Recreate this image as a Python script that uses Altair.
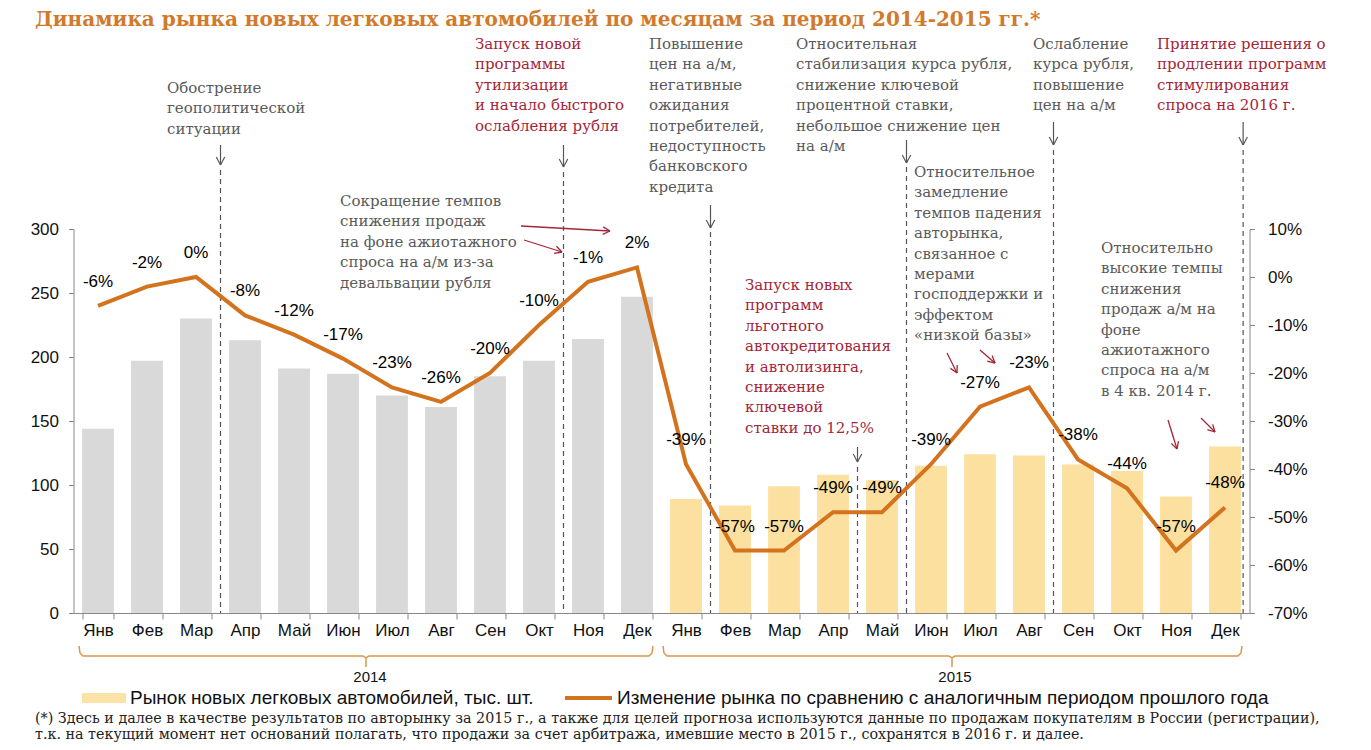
import math
import altair as alt
import pandas as pd

# ---------------- data ----------------
MONTHS = ["Янв", "Фев", "Мар", "Апр", "Май", "Июн", "Июл", "Авг", "Сен", "Окт", "Ноя", "Дек"]
YEARS = ["2014", "2015"]
SALES_2014 = [144, 197, 230, 213, 191, 187, 170, 161, 185, 197, 214, 247]
SALES_2015 = [89, 84, 99, 108, 104, 115, 124, 123, 116, 111, 91, 130]
CHANGE_2014 = [-6, -2, 0, -8, -12, -17, -23, -26, -20, -10, -1, 2]
CHANGE_2015 = [-39, -57, -57, -49, -49, -39, -27, -23, -38, -44, -57, -48]
LEFT_TICKS = [0, 50, 100, 150, 200, 250, 300]
RIGHT_TICKS = [-70, -60, -50, -40, -30, -20, -10, 0, 10]

TITLE = "Динамика рынка новых легковых автомобилей по месяцам за период 2014-2015 гг.*"
LEGEND_BAR = "Рынок новых легковых автомобилей, тыс. шт."
LEGEND_LINE = "Изменение рынка по сравнению с аналогичным периодом прошлого года"
FOOTNOTE = [
    "(*) Здесь и далее в качестве результатов по авторынку за 2015 г., а также для целей прогноза используются данные по продажам покупателям в России (регистрации),",
    "т.к. на текущий момент нет оснований полагать, что продажи за счет арбитража, имевшие место в 2015 г., сохранятся в 2016 г. и далее.",
]

GREY_T = "#5a5a5a"
RED_T = "#a32638"
ANNOTATIONS = [
    (["Обострение", "геополитической", "ситуации"], GREY_T, 167, 88),
    (["Запуск новой", "программы", "утилизации", "и начало быстрого", "ослабления рубля"], RED_T, 475, 44),
    (["Сокращение темпов", "снижения продаж", "на фоне ажиотажного", "спроса на а/м из-за", "девальвации рубля"], GREY_T, 340, 201),
    (["Повышение", "цен на а/м,", "негативные", "ожидания", "потребителей,", "недоступность", "банковского", "кредита"], GREY_T, 649, 44),
    (["Относительная", "стабилизация курса рубля,", "снижение ключевой", "процентной ставки,", "небольшое снижение цен", "на а/м"], GREY_T, 796, 44),
    (["Ослабление", "курса рубля,", "повышение", "цен на а/м"], GREY_T, 1033, 44),
    (["Принятие решения о", "продлении программ", "стимулирования", "спроса на 2016 г."], RED_T, 1157, 44),
    (["Относительное", "замедление", "темпов падения", "авторынка,", "связанное с", "мерами", "господдержки и", "эффектом", "«низкой базы»"], GREY_T, 914, 172),
    (["Запуск новых", "программ", "льготного", "автокредитования", "и автолизинга,", "снижение", "ключевой", "ставки до 12,5%"], RED_T, 745, 285),
    (["Относительно", "высокие темпы", "снижения", "продаж а/м на", "фоне", "ажиотажного", "спроса на а/м", "в 4 кв. 2014 г."], GREY_T, 1101, 248),
]

# event markers: (band boundary index, arrow top, arrow bottom, dashed line top)
EVENTS = [(3, 145, 165, 170), (10, 145, 167, 172), (13, 205, 228, 232), (16, 447, 462, 467),
          (17, 140, 163, 167), (20, 122, 145, 150), (23.87, 122, 145, 150)]
RED_ARROWS = [((521, 226), (610, 231)), ((524, 240), (562, 252)), ((947, 353), (957, 373)),
              ((980, 350), (995, 363)), ((1168, 420), (1177, 449)), ((1201, 418), (1215, 432))]

# ---------------- layout ----------------
W, H = 1176, 384
OX, OY = 73.5, 229.0          # plot origin in page coordinates
STEP = W / 24


def px(x):
    return x - OX


def py(y):
    return y - OY


keys = [f"{m} {y}" for y in YEARS for m in MONTHS]
df = pd.DataFrame({
    "key": keys,
    "year": [y for y in YEARS for _ in MONTHS],
    "sales": SALES_2014 + SALES_2015,
    "change": CHANGE_2014 + CHANGE_2015,
})
df["label"] = [f"{v}%" for v in df["change"]]

FONT = "Liberation Sans"
SERIF = "DejaVu Serif"

X_ENC = alt.X("key:N", sort=keys,
              scale=alt.Scale(paddingInner=0.35, paddingOuter=0.175),
              axis=alt.Axis(title=None, labelExpr="split(datum.label, ' ')[0]", labelAngle=0,
                            tickBand="extent", labelFont=FONT, labelFontSize=17, labelColor="#111",
                            domainColor="#888", tickColor="#888", tickSize=6, labelPadding=3,
                            labelOverlap=False))

bars = alt.Chart(df).mark_bar().encode(
    x=X_ENC,
    y=alt.Y("sales:Q", scale=alt.Scale(domain=[0, 300]),
            axis=alt.Axis(title=None, values=LEFT_TICKS, grid=False, labelFont=FONT, labelFontSize=17,
                          labelColor="#111", domainColor="#888", tickColor="#888", tickSize=5,
                          labelPadding=10)),
    color=alt.Color("year:N", scale=alt.Scale(domain=YEARS, range=["#d9d9d9", "#fce0a0"]), legend=None),
)

Y_R = alt.Y("change:Q", scale=alt.Scale(domain=[-70, 10]),
            axis=alt.Axis(title=None, orient="right", values=RIGHT_TICKS, grid=False,
                          labelExpr="datum.value + '%'", labelFont=FONT, labelFontSize=17,
                          labelColor="#111", domainColor="#888", tickColor="#888", tickSize=5,
                          labelPadding=13))
line = alt.Chart(df).mark_line(color="#d4731e", strokeWidth=4).encode(x=X_ENC, y=Y_R)
vlabels = alt.Chart(df).mark_text(dy=-24, font=FONT, fontSize=17, color="#000").encode(
    x=X_ENC, y=Y_R, text="label:N")
line_group = alt.layer(line, vlabels)

# ---------------- annotation geometry ----------------
ann_rows = []
for lines, col, x0, y0 in ANNOTATIONS:
    for i, t in enumerate(lines):
        ann_rows.append({"x": px(x0), "y": py(y0 + i * 20.4), "t": t, "c": col})
ann = alt.Chart(pd.DataFrame(ann_rows)).mark_text(
    font=SERIF, fontSize=15, align="left", baseline="middle").encode(
    x=alt.X("x:Q", scale=None), y=alt.Y("y:Q", scale=None), text="t:N",
    color=alt.Color("c:N", scale=None))


def arrow(x0, y0, x1, y1, head=8.0, ang=28.0):
    a = math.atan2(y1 - y0, x1 - x0)
    segs = [(x0, y0, x1, y1)]
    for s in (1, -1):
        b = a + math.pi - s * math.radians(ang)
        segs.append((x1, y1, x1 + head * math.cos(b), y1 + head * math.sin(b)))
    return segs


dash_rows, grey_arrows = [], []
for k, atop, abot, dtop in EVENTS:
    xx = k * STEP
    dash_rows.append({"x": xx, "y": py(dtop), "y2": H})
    for s in arrow(xx, py(atop), xx, py(abot), head=9):
        grey_arrows.append({"x": s[0], "y": s[1], "x2": s[2], "y2": s[3]})

red_rows = []
for (a0, a1) in RED_ARROWS:
    for s in arrow(px(a0[0]), py(a0[1]), px(a1[0]), py(a1[1]), head=8):
        red_rows.append({"x": s[0], "y": s[1], "x2": s[2], "y2": s[3]})


def seg_layer(rows, color, width):
    return alt.Chart(pd.DataFrame(rows)).mark_rule(color=color, strokeWidth=width).encode(
        x=alt.X("x:Q", scale=None), y=alt.Y("y:Q", scale=None), x2="x2:Q", y2="y2:Q")


dashes = alt.Chart(pd.DataFrame(dash_rows)).mark_rule(color="#555", strokeWidth=1.2, strokeDash=[5, 4]).encode(
    x=alt.X("x:Q", scale=None), y=alt.Y("y:Q", scale=None), y2="y2:Q")
garrows = seg_layer(grey_arrows, "#555", 1.2)
rarrows = seg_layer(red_rows, "#a32638", 1.3)

# year braces
brace_rows = []
for bid, (l, r, c) in enumerate([(79, 653, 366), (663, 1242, 952)]):
    pts = [(l, 646), (l + 1, 653), (l + 4, 656), (c - 3, 656), (c, 658), (c, 667),
           (c, 658), (c + 3, 656), (r - 4, 656), (r - 1, 653), (r, 646)]
    for i, (xx, yy) in enumerate(pts):
        brace_rows.append({"id": bid, "o": i, "x": px(xx), "y": py(yy)})
braces = alt.Chart(pd.DataFrame(brace_rows)).mark_line(color="#d9964a", strokeWidth=1.5).encode(
    x=alt.X("x:Q", scale=None), y=alt.Y("y:Q", scale=None), detail="id:N", order="o:Q")

years_txt = alt.Chart(pd.DataFrame({"x": [px(370), px(955)], "y": [py(677), py(677)], "t": YEARS})).mark_text(
    font=FONT, fontSize=15, color="#111", baseline="middle").encode(
    x=alt.X("x:Q", scale=None), y=alt.Y("y:Q", scale=None), text="t:N")

# legend
leg_rect = alt.Chart(pd.DataFrame({"x": [px(82)], "x2": [px(126)], "y": [py(693)], "y2": [py(703)]})).mark_rect(
    color="#fbe2a6").encode(x=alt.X("x:Q", scale=None), x2="x2:Q", y=alt.Y("y:Q", scale=None), y2="y2:Q")
leg_line = alt.Chart(pd.DataFrame({"x": [px(565)], "x2": [px(612)], "y": [py(698)]})).mark_rule(
    color="#d4731e", strokeWidth=4).encode(x=alt.X("x:Q", scale=None), x2="x2:Q", y=alt.Y("y:Q", scale=None))
leg_txt = alt.Chart(pd.DataFrame({"x": [px(130), px(617)], "y": [py(698), py(698)],
                                  "t": [LEGEND_BAR, LEGEND_LINE]})).mark_text(
    font=FONT, fontSize=19, color="#111", align="left", baseline="middle").encode(
    x=alt.X("x:Q", scale=None), y=alt.Y("y:Q", scale=None), text="t:N")

foot = alt.Chart(pd.DataFrame({"x": [px(35), px(35)], "y": [py(719), py(735)], "t": FOOTNOTE})).mark_text(
    font=SERIF, fontSize=14.3, color="#222", align="left", baseline="middle").encode(
    x=alt.X("x:Q", scale=None), y=alt.Y("y:Q", scale=None), text="t:N")

title = alt.Chart(pd.DataFrame({"x": [px(35)], "y": [py(20)], "t": [TITLE]})).mark_text(
    font=SERIF, fontSize=20, fontWeight="bold", color="#d27a2c", align="left", baseline="middle").encode(
    x=alt.X("x:Q", scale=None), y=alt.Y("y:Q", scale=None), text="t:N")

chart = alt.layer(
    bars, dashes, line_group, ann, garrows, rarrows, braces, years_txt, leg_rect, leg_line, leg_txt, foot, title
).resolve_scale(y="independent").properties(
    width=W, height=H,
    autosize=alt.AutoSizeParams(type="none"),
    padding={"left": OX - 8, "top": OY - 8, "right": 1355 - (OX - 8) - W, "bottom": 734 - (OY - 8) - H},
    background="white",
).configure_view(stroke=None)

chart.save("out.html", embed_options={"renderer": "svg", "actions": False})
